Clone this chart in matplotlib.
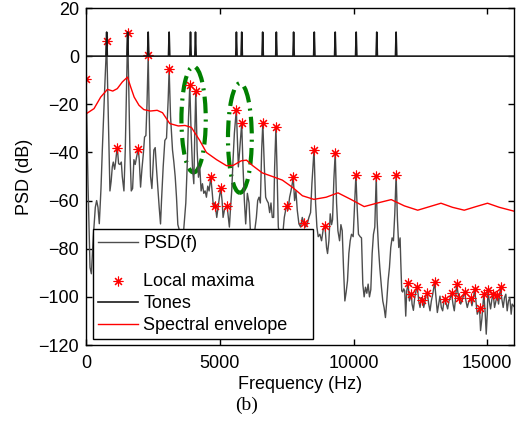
import numpy as np
import matplotlib
matplotlib.use("Agg")
import matplotlib.pyplot as plt
from matplotlib.patches import Ellipse
from matplotlib.lines import Line2D

plt.rcParams['font.family'] = ['Liberation Sans', 'DejaVu Sans']
plt.rcParams['font.size'] = 13

# PSD curve (Hz, dB)
psd_f = [0, 75, 150, 200, 273, 348, 398, 448, 497, 560, 610, 697, 772, 821, 870, 895, 940, 983,
         1020, 1070, 1107, 1145, 1170, 1219, 1269, 1320, 1356, 1418, 1468, 1517, 1556, 1595, 1642,
         1692, 1742, 1791, 1840, 1890, 1953, 1990, 2040, 2090, 2140, 2189, 2239, 2280, 2325, 2360,
         2413, 2463, 2537, 2587, 2637, 2686, 2736, 2786, 2823, 2885, 2948, 3010, 3072, 3108, 3160,
         3234, 3284, 3334, 3383, 3433, 3508, 3632, 3731, 3781, 3831, 3880, 3930, 3980, 4030, 4067,
         4104, 4154, 4204, 4254, 4303, 4353, 4403, 4453, 4502, 4552, 4602, 4664, 4714, 4764, 4801,
         4838, 4888, 4938, 4988, 5037, 5087, 5124, 5174, 5224, 5273, 5323, 5360, 5398, 5447, 5497,
         5547, 5620, 5696, 5746, 5821, 5870, 5920, 5970, 6032, 6095, 6156, 6280, 6369, 6418, 6468,
         6518, 6567, 6610, 6667, 6716, 6766, 6816, 6866, 6915, 6965, 7015, 7052, 7100, 7139, 7189,
         7263, 7363, 7413, 7463, 7500, 7550, 7612, 7662, 7711, 7745, 7798, 7848, 7898, 7960, 8022,
         8085, 8145, 8209, 8271, 8333, 8395, 8445, 8525, 8582, 8632, 8681, 8743, 8806, 8868, 8935,
         8992, 9030, 9080, 9130, 9180, 9217, 9267, 9317, 9367, 9417, 9479, 9529, 9578, 9626, 9677,
         9726, 9776, 9826, 9876, 9925, 9988, 10037, 10090, 10137, 10186, 10249, 10299, 10348, 10398,
         10448, 10498, 10547, 10597, 10647, 10697, 10746, 10796, 10850, 10883, 10933, 10983, 11045,
         11095, 11145, 11194, 11244, 11294, 11344, 11393, 11443, 11493, 11543, 11593, 11643, 11692,
         11742, 11766, 11803, 11841, 11878, 11915, 11953, 11990, 12040, 12090, 12164, 12189, 12239,
         12289, 12339, 12388, 12438, 12488, 12538, 12575, 12625, 12675, 12724, 12761, 12811, 12861,
         12910, 12960, 13034, 13084, 13134, 13184, 13233, 13283, 13333, 13383, 13421, 13470, 13520,
         13570, 13620, 13668, 13719, 13768, 13818, 13855, 13905, 13955, 14005, 14054, 14104, 14153,
         14203, 14253, 14303, 14340, 14377, 14427, 14477, 14526, 14576, 14626, 14712, 14750, 14800,
         14850, 14876, 14925, 14962, 15000, 15025, 15074, 15124, 15174, 15223, 15273, 15323, 15372,
         15422, 15496, 15546, 15596, 15645, 15695, 15745, 15794, 15844, 15894, 15931, 16000]
psd_db = [-9.3, -53, -87.8, -90.4, -75, -62.8, -60, -62.8, -69.6, -55, -39, -14, 6.2, -18, -43, -56, -52, -46,
          -44, -47, -44, -40, -38, -44.7, -45, -44, -50, -56, -39, -11, 9.5, -11, -39,
          -56, -55, -43, -45, -42, -38.5, -43, -54.4, -47, -41, -33.6, -33, -20, 0.4, -22,
          -50, -55, -39, -38, -47, -55, -62.8, -69.7, -60, -46, -35, -34, -18, -5.5, -25,
          -39, -44, -50, -58.6, -70, -73, -75, -61, -46, -26, -12, -32, -46, -53, -32,
          -14.6, -39, -50.3, -46, -56, -53, -57, -56, -58.6, -54, -56, -50.3, -56, -62.8, -61,
          -62.4, -67, -62.8, -58.6, -54.9, -60, -67, -64, -62.8, -62.1, -67, -71, -64, -56, -43,
          -32, -22.2, -46, -39, -27.8, -46, -60, -69.7, -57, -61, -75, -75, -67, -60, -58.6,
          -61, -39, -27.8, -46, -58.6, -60, -61, -65, -61, -67, -67, -46, -29.4, -46, -71,
          -75, -73, -67, -64, -62.1, -64, -58.6, -56, -53, -50, -60, -56, -64, -69.7, -71,
          -67, -69.4, -71, -69.7, -67, -65, -53, -38.8, -61, -71, -75, -74, -76.7, -72, -70.7,
          -79.5, -82, -76.7, -65.5, -70, -68, -51, -40.1, -61, -72.5, -76.7, -70, -72.5, -87.8, -101.7,
          -98, -93.3, -82, -76.7, -74, -75, -62.8, -49.3, -63, -74, -75, -75.5, -94.7, -100,
          -96, -98.5, -94.7, -100, -97, -82, -74, -71, -49.6, -68, -79.5, -87.8, -96,
          -101.7, -104.5, -108.6, -101.7, -93.3, -87.8, -79.5, -75.5, -76.7, -65.5, -49.2, -68, -79.5,
          -75.5, -85, -97.5, -98, -96.7, -97.5, -108, -97.5, -94.3, -101.7, -98.9, -103, -105.6,
          -100.3, -97.5, -95.7, -101.7, -104.4, -100.3, -101.1, -104.4, -101.7, -99, -98.3, -103, -105.8,
          -101.7, -99, -94, -100.3, -106.5, -103, -99.7, -104.4, -105.8, -101.7, -101, -103, -105,
          -101.7, -100.3, -98.6, -103, -105.8, -100.3, -94.7, -98.3, -100.3, -103, -101.7, -99.7, -97.9,
          -101.7, -104.4, -102.3, -101.5, -100.5, -103.7, -101, -96.8, -101.7, -107.2, -104.7, -114, -109,
          -101.7, -98.9, -107.2, -115.5, -107.2, -97.1, -101.7, -105, -101, -98.9, -104.4, -101.7, -99.2,
          -103, -96.1, -101, -104.4, -100.3, -98.9, -105.8, -101.7, -100.3, -107.2, -103, -104]

# local maxima (red stars)
max_f = [0, 772, 1170, 1556, 1953, 2325, 3108, 3880, 4104, 4664, 4838, 5037, 5273, 5620, 5821,
         6610, 7100, 7500, 7745, 8145, 8525, 8935, 9317, 10090, 10850, 11593, 12040, 12164, 12388,
         12575, 12761, 13034, 13421, 13668, 13855, 13955, 14153, 14377, 14526, 14712, 14876, 15025,
         15223, 15372, 15496]
max_db = [-9.3, 6.2, -38, 9.5, -38.5, 0.4, -5.5, -12, -14.6, -50.3, -62.4, -54.9, -62.1, -22.2, -27.8,
          -27.8, -29.4, -62.1, -50, -69.4, -38.8, -70.7, -40.1, -49.3, -49.6, -49.2, -94.3, -98.9, -95.7,
          -101.1, -98.3, -94, -101, -98.6, -94.7, -100.3, -97.9, -100.5, -96.8, -104.7, -98.9, -97.1,
          -98.9, -99.2, -96.1]

# tone frequencies (Hz), spike height (dB)
tone_f = [772, 1556, 2325, 3108, 3907, 4093, 5623, 5821, 6604, 7116, 7761, 8534, 9317, 10101,
          10869, 11593]
tone_level = 10

# spectral envelope
env_f = [0, 300, 550, 800, 1000, 1170, 1360, 1550, 1670, 1800, 1980, 2160, 2410, 2660, 2860, 3130,
         3450, 3700, 3940, 4250, 4500, 4880, 5250, 5500, 5800, 6000, 6220, 6590, 6970, 7340, 7720,
         8090, 8520, 8980, 9420, 9900, 10400, 10900, 11410, 11900, 12400, 12850, 13270, 13700,
         14140, 14580, 15010, 15450, 16000]
env_db = [-24, -21.8, -17, -13.8, -14.5, -13.5, -10.7, -8.7, -12.8, -17, -20.4, -22.2, -22.8, -22.5,
          -23.5, -28, -29, -28.8, -29.6, -35, -40, -43, -45.5, -45.4, -43.5, -43.2, -45.4, -48.5,
          -50, -51.5, -54.5, -58, -59.5, -58.6, -56.8, -59.5, -62.5, -61, -59.6, -62.2, -64, -62.5,
          -61.1, -62.8, -64, -62.5, -61.1, -62.8, -64.4]

# tones as a 0 dB baseline with narrow spikes
tx, ty = [0], [0]
for f in tone_f:
    tx += [f - 25, f, f + 25]
    ty += [0, tone_level, 0]
tx.append(16000)
ty.append(0)

fig = plt.figure(figsize=(5.16, 4.32), dpi=100)
ax = fig.add_axes([86/516, 1 - 345/432, 428/516, 337/432])

l_psd, = ax.plot(psd_f, psd_db, color='0.3', lw=1)
l_max, = ax.plot(max_f, max_db, linestyle='none', marker=(8, 2, 0), markersize=7,
                 markeredgecolor='red', markerfacecolor='red', markeredgewidth=0.8)
l_tone, = ax.plot(tx, ty, color='0.1', lw=1.2)
l_env, = ax.plot(env_f, env_db, color='red', lw=1)

# dashed ellipses around the inharmonic pairs
for c, w, h in [((4022, -26.3), 910, 44), ((5753, -34), 890, 45.5)]:
    ax.add_patch(Ellipse(c, w, h, fill=False, edgecolor='#008000', lw=3,
                         linestyle=(0, (4, 1.5, 0.5, 1.5))))

ax.set_xlim(0, 16000)
ax.set_ylim(-120, 20)
ax.set_xticks([0, 5000, 10000, 15000])
ax.set_yticks(np.arange(-120, 21, 20))
ax.tick_params(direction='in', top=True, right=True, length=4, width=1)
ax.tick_params(axis='x', pad=7)
ax.tick_params(axis='y', pad=5)
for s in ax.spines.values():
    s.set_linewidth(1)
ax.set_xlabel("Frequency (Hz)", labelpad=3)
ax.set_ylabel("PSD (dB)", labelpad=4)

blank = Line2D([], [], linestyle='none')
leg = ax.legend([l_psd, blank, l_max, l_tone, l_env],
                ["PSD(f)", " ", "Local maxima", "Tones", "Spectral envelope"],
                loc='lower left', bbox_to_anchor=(0.0157, 0.0178, 0.515, 0.3), mode='expand',
                borderaxespad=0, fancybox=False, framealpha=1, edgecolor='black',
                handlelength=2.2, handleheight=0.45, handletextpad=0.3, labelspacing=0.26,
                borderpad=0.3, numpoints=1)
leg.get_frame().set_linewidth(1)
leg.get_texts()[1].set_fontsize(3)

fig.text(0.477, 1 - 405/432, "(b)", ha='center', va='center',
         family=['Liberation Serif', 'DejaVu Serif'], fontsize=14)

plt.savefig("out.png", dpi=100)
plt.close()
